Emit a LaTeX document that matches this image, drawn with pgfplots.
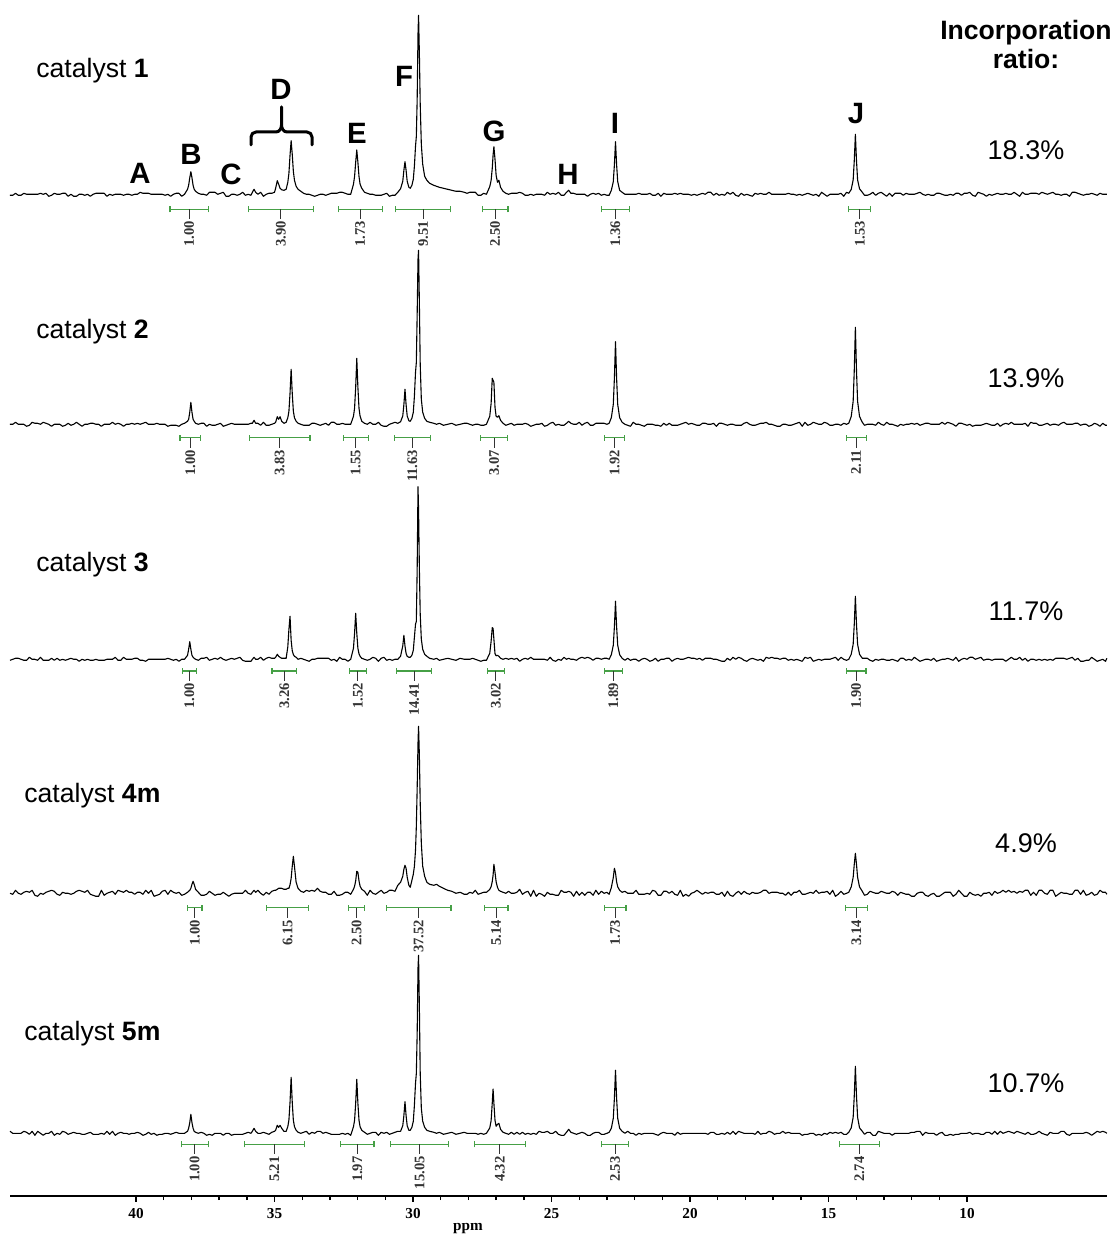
\documentclass[border=0pt]{standalone}
\usepackage{pgfplots}
\usepackage{pgfplotstable}
\pgfplotsset{compat=1.18}
\usepackage{fontspec}
\setmainfont{Liberation Sans}
\newfontfamily\tnr{Liberation Serif}
\newcommand\fs[1]{\fontsize{#1}{#1}\selectfont}
\definecolor{intg}{RGB}{70,160,70}

\pgfplotstableread{
ppm a b c d e
44.55 -1 0 -1 0 2
44.45 -1 0 0 -1 0
44.35 1 2 1 3 0
44.25 -1 0 1 0 0
44.15 -1 0 0 -1 0
44.05 1 0 -1 1 2
43.95 0 -2 -1 2 1
43.85 0 -1 2 1 -1
43.75 0 2 0 3 2
43.65 0 1 0 -2 -2
43.55 0 1 -1 -3 2
43.45 1 0 2 0 0
43.35 0 2 -1 -1 -2
43.25 1 1 -1 1 0
43.15 -2 0 -1 2 0
43.05 -1 -2 1 3 2
42.95 1 0 -1 2 -2
42.85 0 0 1 -1 0
42.75 0 0 -1 -2 -1
42.65 1 -2 0 1 2
42.55 1 -1 -1 0 1
42.45 -2 1 0 0 -1
42.35 0 -1 1 -1 0
42.25 -2 0 0 0 1
42.15 -2 2 0 2 0
42.05 0 0 -2 3 0
41.95 0 -2 0 2 -1
41.85 -1 0 -1 1 -1
41.75 0 0 0 3 0
41.65 -2 1 -1 -1 1
41.55 0 1 -1 -2 -1
41.45 1 0 0 -3 -1
41.35 1 0 -1 -3 -1
41.25 1 -2 -1 3 0
41.15 1 0 -1 -2 -1
41.05 -2 0 0 0 2
40.95 0 0 0 1 -1
40.85 -1 2 0 2 2
40.75 0 0 2 -1 -2
40.65 0 1 -1 3 0
40.55 0 0 -1 2 1
40.45 -1 -2 2 1 0
40.35 0 0 0 3 0
40.25 0 0 0 1 -1
40.15 -1 1 0 1 0
40.05 0 0 1 -1 0
39.95 0 1 1 1 1
39.85 2 0 -1 1 0
39.75 1 1 -1 -1 -2
39.65 1 2 -2 3 -1
39.55 1 0 0 0 1
39.45 0 0 0 3 -1
39.35 0 0 0 -3 0
39.25 0 1 0 -2 -2
39.15 0 0 0 -1 -1
39.05 0 0 0 2 -1
38.95 -1 0 0 3 0
38.85 0 -2 1 -1 0
38.75 -2 -1 0 3 -1
38.65 0 -1 -1 1 0
38.55 1 -1 0 0 1
38.45 1 -2 -2 1 0
38.35 -2 0 0 -2 0
38.25 0 1 0 -1 0
38.14 5 3 4 1 2
38.10 9 5 10 2 5
38.06 16.5 12 17.6 3 10.6
38.02 22.6 22 10 5 19
37.98 16.5 12 4 9 10.6
37.94 9 5 2 12 5
37.90 5 3 1 9 2
37.85 3 1 0 4 1
37.75 1 0 -1 1 0
37.65 0 1 1 -2 1
37.55 0 1 1 -2 0
37.45 -1 -2 2 -1 -2
37.35 2 0 -1 2 -1
37.25 2 -1 0 0 -2
37.15 2 -1 1 -2 0
37.05 0 0 0 -1 0
36.95 1 1 2 -1 0
36.85 2 -2 0 1 -2
36.75 -2 -1 -1 -1 0
36.65 -2 0 0 -3 0
36.55 0 1 1 -1 -2
36.45 0 0 0 0 -1
36.35 -1 0 1 0 -1
36.25 0 0 2 0 -1
36.15 2 0 -1 0 -1
36.05 -1 0 -2 3 0
35.95 0 0 -2 0 1
35.85 -1 1 -2 -1 0
35.80 2 1 0 1 2
35.74 5 4 2 3 5
35.68 2 1 0 1 2
35.60 0 1 0 3 0
35.50 2 -1 2 0 0
35.40 -2 2 -1 -2 1
35.30 0 -1 1 1 0
35.20 1 -1 2 -1 -1
35.10 1 0 1 2 1
35.00 2 1 1 3 2
34.96 6 2 2 3 3
34.90 13.6 7.6 5 4 8
34.85 10 5 3 5 6
34.80 6 7.6 2 5 8
34.74 4.5 3 1 5 5
34.66 4 1 1 4 2
34.58 5 2 1 4 2
34.52 12 6.6 12.6 5 6.7
34.48 21 13 30 5 13.4
34.44 39 31 43 8.5 31
34.40 53.6 55 19 14.8 56
34.36 40 31 8.6 27 31
34.32 23 13 4.7 37 13
34.28 14 6.6 3 27 6.7
34.22 8 3 2 11 3
34.15 5 1 0 5 1
34.05 3 0 1 2 0
33.95 1 -1 0 1 1
33.85 0 -1 -1 3 2
33.75 0 -1 -2 2 -1
33.65 -1 1 0 3 1
33.55 -2 1 0 2 0
33.45 -1 0 1 5 2
33.35 0 -1 1 2 2
33.25 0 0 1 1 0
33.15 -1 1 1 1 1
33.05 0 -1 1 -1 0
32.95 1 2 -1 -1 -1
32.85 1 2 0 2 -1
32.75 1 0 -2 -2 -1
32.65 2 0 2 -2 -1
32.55 2 1 0 -1 0
32.45 1 0 0 1 -1
32.35 0 0 -2 1 0
32.25 0 0 0 -1 -2
32.15 10 8 11 4 6.5
32.11 17.7 16 26 7 13
32.07 32 37 46 12.4 30
32.03 44.3 66 26 22 54
31.99 32 37 11 21 30
31.95 17.7 16 5.5 12.4 13
31.91 10 8 3 7 6.5
31.85 6 3 1 4 3
31.75 2 1 0 2 1
31.65 1 0 -1 -2 -1
31.55 0 2 0 3 0
31.45 0 0 2 0 1
31.35 -1 0 1 -1 1
31.25 -1 2 -2 1 -2
31.15 -1 -1 1 3 1
31.05 0 -2 2 0 0
30.95 1 -2 -1 1 1
30.85 -2 0 0 3 -1
30.75 -1 1 -1 3 0
30.65 -1 2 0 2 1
30.55 2 1 0 8 2
30.45 5.5 2.5 3 11 2
30.37 13 8.4 13.4 17 7.6
30.33 24 19.6 24 24 17.7
30.29 32.6 35 13.4 28 31.6
30.25 24 19.6 5.8 25 17.7
30.21 13 8.4 3 16 7.6
30.15 7 3.5 2 8 3
30.10 6 3 2 6 3
30.04 9 6 4 13 6
29.99 15 12 9 19 12
29.95 28 28 22 27 28
29.91 48 52 35 43 50
29.88 58 62 38 67 60
29.85 95 110 90 105 100
29.82 160 165 172.6 150 165
29.80 179 174 150 167 178
29.77 140 120 90 137 125
29.74 90 60 45 90 60
29.70 50 25 20 50 25
29.65 30 12 10 27 12
29.58 18 6 5 17 6
29.50 14 3 3 11 3
29.40 11 2 1 9 2
29.25 9 1 0 8 1
29.15 8 0 1 9 0
29.05 7 1 -1 7 1
28.90 6 -1 0 5 -1
28.75 5 0 1 3 0
28.60 4 1 0 2 1
28.45 3 -1 -1 0 -1
28.30 3 0 1 1 0
28.15 2 1 0 -1 1
28.05 1 1 0 -1 0
27.95 2 0 0 1 0
27.85 2 -1 1 0 0
27.75 2 0 0 3 0
27.65 -1 0 -1 -1 -1
27.55 -1 -1 -2 0 0
27.45 1 -1 -1 1 -1
27.35 0 0 -1 1 0
27.23 7.6 8 6 3.8 5.3
27.18 14 21 18 6.7 12.8
27.14 25.7 46 31.6 11.6 30
27.11 39 44 31 18 44.3
27.08 47.6 42 20 29 30
27.04 35 17 5.5 21 13
27.00 19 8 3.5 11.6 7
26.95 12 7 4 5.8 9
26.90 14 8.6 3 3 10
26.84 7 4 1 2 4
26.75 3 1 0 1 1
26.65 1 -1 1 0 0
26.55 0 0 0 2 -1
26.45 1 1 1 0 1
26.35 1 -1 0 0 -1
26.25 1 0 1 1 1
26.15 2 0 -2 4 -1
26.05 1 0 0 -1 1
25.95 -1 1 1 1 -1
25.85 -1 0 0 2 0
25.75 0 -2 2 -3 -1
25.65 -1 -1 0 3 0
25.55 0 0 0 -3 -1
25.45 0 0 0 0 2
25.35 0 1 0 -1 1
25.25 -1 -2 0 -3 1
25.15 2 -1 -1 1 2
25.05 0 1 2 -1 0
24.95 1 2 -1 -1 0
24.85 0 -1 -2 -2 2
24.75 2 0 0 -2 -1
24.65 -1 -1 -1 3 -2
24.55 -1 -1 2 1 -2
24.46 2 1 0 1 1
24.38 4 3 1 2 4
24.30 1 1 0 1 1
24.20 1 0 0 -3 0
24.10 0 0 -1 2 -1
24.00 0 2 1 -2 0
23.90 0 -1 2 1 1
23.80 0 1 1 -2 0
23.70 -2 2 2 1 -2
23.60 0 -1 1 1 -2
23.50 1 -1 -1 -2 0
23.40 0 1 1 3 1
23.30 1 1 1 -1 1
23.20 -1 1 0 2 -1
23.10 0 1 1 0 -1
23.00 -1 0 1 1 0
22.92 -1 1 0 -1 1
22.84 4 6.6 4.6 5.8 5
22.77 12.6 19.8 14 15.7 15
22.73 29.5 46 32.5 25 35
22.69 52.6 82.6 58 20.5 63
22.65 29.5 46 32.5 11.5 35
22.61 12.6 19.8 14 6.5 15
22.54 4 6.6 4.6 3 5
22.45 2 2 1 1 2
22.35 0 0 -1 2 0
22.25 0 -1 1 0 2
22.15 0 -2 -1 0 0
22.05 0 2 0 0 0
21.95 0 0 0 3 -2
21.85 1 0 -2 -1 0
21.75 0 -1 0 -1 -1
21.65 0 -2 1 -1 0
21.55 0 0 0 0 0
21.45 1 0 -2 -1 0
21.35 -1 0 -1 3 0
21.25 -1 -1 1 2 -1
21.15 1 -1 -2 -2 -2
21.05 -2 -2 0 -2 0
20.95 1 1 0 2 1
20.85 0 -1 1 2 0
20.75 0 1 1 0 0
20.65 0 -1 -2 2 0
20.55 1 -1 0 -1 -2
20.45 0 -1 1 -2 1
20.35 1 0 0 3 -1
20.25 0 1 0 -3 0
20.15 0 2 1 -1 0
20.05 0 0 2 -3 0
19.95 -1 1 1 0 0
19.85 0 0 1 1 0
19.75 -1 -1 0 3 0
19.65 0 -1 1 1 0
19.55 1 1 -1 -1 0
19.45 0 1 1 1 0
19.35 2 0 1 0 -1
19.25 2 0 1 1 1
19.15 -1 1 0 1 1
19.05 1 -2 0 -1 -1
18.95 -1 1 -1 -1 -1
18.85 0 1 -2 1 0
18.75 -1 0 -2 -3 -1
18.65 2 -1 1 2 1
18.55 0 0 -1 -2 -1
18.45 2 0 2 -3 2
18.35 -1 -1 0 0 -1
18.25 -2 -1 2 2 2
18.15 1 -1 1 -1 1
18.05 -1 1 -1 2 0
17.95 0 2 -2 0 0
17.85 -1 0 0 -1 0
17.75 -2 -1 1 1 0
17.65 1 -1 0 0 -1
17.55 0 0 -1 0 2
17.45 1 1 0 1 -1
17.35 0 1 -2 3 0
17.25 0 2 2 3 0
17.15 2 0 1 0 2
17.05 0 0 2 1 1
16.95 0 -1 1 1 -1
16.85 0 -2 1 1 0
16.75 0 -2 0 0 0
16.65 0 0 1 0 2
16.55 0 0 1 -2 0
16.45 1 -1 -1 1 1
16.35 0 -1 0 -2 0
16.25 0 0 -1 1 0
16.15 -1 1 0 1 0
16.05 0 2 -1 3 0
15.95 -1 -2 -2 -1 -2
15.85 0 2 2 -1 -1
15.75 1 -1 1 0 -1
15.65 0 0 2 1 0
15.55 -1 2 -2 0 0
15.45 0 1 -1 3 -2
15.35 -2 0 0 0 -1
15.25 2 0 -1 1 -2
15.15 0 2 0 1 0
15.05 -2 1 0 2 -1
14.95 0 -1 0 -1 1
14.85 0 -1 1 3 0
14.75 0 0 2 -3 1
14.65 0 0 -1 -1 0
14.55 1 -1 2 2 1
14.45 -2 1 0 -1 -1
14.35 2 0 -1 0 -1
14.27 1 1 0 1 1
14.18 4.8 7.8 5 6.4 5.4
14.11 14.4 23 15 16 16
14.07 33.6 54 35 29 37.5
14.03 60 97 63 40 67
13.99 33.6 54 35 29 37.5
13.95 14.4 23 15 16 16
13.88 5.5 7.8 5 6.4 5.4
13.78 2 2 1 2 2
13.70 -1 -1 1 -2 -1
13.60 -1 0 1 -1 1
13.50 0 0 -1 2 1
13.40 2 0 -2 1 -2
13.30 -1 -1 0 0 -2
13.20 1 2 -1 0 2
13.10 2 0 0 2 1
13.00 0 -1 0 1 0
12.90 -2 2 -1 0 0
12.80 1 0 -1 0 0
12.70 -2 0 0 2 -2
12.60 1 -1 -1 1 0
12.50 1 -2 -2 -2 0
12.40 1 0 1 1 0
12.30 -1 -1 1 0 0
12.20 1 0 -1 -1 0
12.10 0 0 0 -1 0
12.00 0 1 -1 -3 1
11.90 0 0 2 -3 1
11.80 1 1 0 0 2
11.70 2 -1 -2 1 2
11.60 0 0 -1 1 -2
11.50 -1 1 0 -2 1
11.40 0 1 0 -3 0
11.30 -1 0 -1 -1 0
11.20 -1 0 1 0 0
11.10 1 0 -2 -3 -2
11.00 1 0 -1 -3 0
10.90 0 2 0 -1 1
10.80 -1 0 0 1 -2
10.70 -1 2 1 1 -2
10.60 0 1 0 1 -1
10.50 -1 0 -1 -3 -2
10.40 1 -2 2 -1 -1
10.30 1 1 -2 3 -1
10.20 -1 1 0 0 0
10.10 1 0 1 -3 0
10.00 1 -1 0 -3 0
9.90 2 0 2 1 1
9.80 -1 -2 2 -1 -1
9.70 -2 -1 0 -2 0
9.60 2 -1 1 -1 0
9.50 1 -1 2 -3 -1
9.40 0 0 -1 0 -1
9.30 -2 1 0 0 1
9.20 0 0 0 1 1
9.10 -1 -1 -1 -2 -1
9.00 0 -1 0 2 2
8.90 1 1 0 0 -1
8.80 0 -2 0 1 2
8.70 0 0 0 3 0
8.60 1 1 -2 1 1
8.50 0 0 0 3 2
8.40 0 2 2 1 1
8.30 2 0 0 2 0
8.20 0 0 0 0 2
8.10 -2 0 2 2 1
8.00 2 0 -1 1 0
7.90 0 1 1 3 -1
7.80 0 -2 -2 3 1
7.70 1 2 0 -2 -1
7.60 1 1 0 1 -1
7.50 1 1 -1 -2 0
7.40 0 -1 0 3 2
7.30 2 -1 -1 3 0
7.20 1 0 0 0 -1
7.10 0 1 -1 -1 -2
7.00 1 -1 0 3 1
6.90 2 0 -1 3 0
6.80 0 0 1 -3 0
6.70 0 -1 1 -1 0
6.60 -1 1 1 1 2
6.50 0 2 1 0 2
6.40 0 0 0 0 -1
6.30 -2 0 1 -1 -2
6.20 2 0 2 -1 0
6.10 2 1 -1 3 0
6.00 1 1 1 3 0
5.90 0 -1 -2 -1 0
5.80 -1 0 -2 3 0
5.70 0 0 -1 -2 1
5.60 0 -2 -1 -1 0
5.50 1 -1 2 1 -2
5.40 0 1 0 -2 0
5.30 -1 0 -2 -1 2
5.20 1 -2 -1 3 1
5.10 0 1 0 1 2
5.00 0 -1 -2 1 1
4.95 0 -1 1 -1 0
}\spec

% integration bracket: left, right, centre, y, label
\newcommand\integ[5]{%
  \draw[intg, line width=0.6pt] (axis cs:#1,#4) -- (axis cs:#2,#4);
  \draw[intg, line width=0.6pt] ([yshift=-1.5pt]axis cs:#1,#4) -- ([yshift=1.5pt]axis cs:#1,#4);
  \draw[intg, line width=0.6pt] ([yshift=-1.5pt]axis cs:#2,#4) -- ([yshift=1.5pt]axis cs:#2,#4);
  \draw[black!80, line width=0.5pt] (axis cs:#3,#4) -- ([yshift=-5pt]axis cs:#3,#4)
     node[rotate=90, anchor=east, inner sep=0.8pt, font=\tnr\bfseries\fs{7.3}] {#5};
}

\begin{document}
\begin{tikzpicture}
\path[use as bounding box] (-5pt,-20.5pt) rectangle (553.5pt,598pt);
\begin{axis}[
  scale only axis, width=548.45pt, height=598pt,
  at={(0,0)}, anchor=south west,
  xmin=4.95, xmax=44.55, x dir=reverse,
  ymin=41, ymax=1237,
  axis x line=bottom, axis y line=none,
  axis line style={-, line width=0.75pt},
  xtick={10,15,...,40}, minor x tick num=4,
  tick align=outside, major tick length=2.8pt, minor tick length=2pt,
  tick style={black, line width=0.7pt},
  /pgf/number format/assume math mode=true,
  xticklabel style={font=\tnr\bfseries\fs{7.6}},
  clip=false,
  spec/.style={black, line width=0.55pt, line join=round, no markers},
]
\addplot[spec] table[x=ppm, y expr=\thisrow{a}+1042.7] {\spec};
\addplot[spec] table[x=ppm, y expr=\thisrow{b}+812.7] {\spec};
\addplot[spec] table[x=ppm, y expr=\thisrow{c}+577.7] {\spec};
\addplot[spec] table[x=ppm, y expr=\thisrow{d}+343.7] {\spec};
\addplot[spec] table[x=ppm, y expr=\thisrow{e}+103.7] {\spec};

% spectrum 1
\integ{38.77}{37.39}{38.08}{1027.7}{1.00}
\integ{35.94}{33.60}{34.77}{1027.7}{3.90}
\integ{32.70}{31.11}{31.905}{1027.7}{1.73}
\integ{30.63}{28.64}{29.635}{1027.7}{9.51}
\integ{27.50}{26.57}{27.035}{1027.7}{2.50}
\integ{23.20}{22.18}{22.69}{1027.7}{1.36}
\integ{14.27}{13.47}{13.87}{1027.7}{1.53}
% spectrum 2
\integ{38.41}{37.66}{38.035}{799.3}{1.00}
\integ{35.91}{33.72}{34.815}{799.3}{3.83}
\integ{32.52}{31.62}{32.07}{799.3}{1.55}
\integ{30.68}{29.36}{30.02}{799.3}{11.63}
\integ{27.55}{26.60}{27.075}{799.3}{3.07}
\integ{23.08}{22.36}{22.72}{799.3}{1.92}
\integ{14.36}{13.64}{14.00}{799.3}{2.11}
% spectrum 3
\integ{38.31}{37.83}{38.07}{566}{1.00}
\integ{35.09}{34.20}{34.645}{566}{3.26}
\integ{32.30}{31.68}{31.99}{566}{1.52}
\integ{30.59}{29.32}{29.955}{566}{14.41}
\integ{27.31}{26.71}{27.01}{566}{3.02}
\integ{23.08}{22.45}{22.765}{566}{1.89}
\integ{14.35}{13.65}{14.00}{566}{1.90}
% spectrum 4
\integ{38.13}{37.62}{37.875}{329.3}{1.00}
\integ{35.28}{33.78}{34.53}{329.3}{6.15}
\integ{32.34}{31.74}{32.04}{329.3}{2.50}
\integ{30.96}{28.63}{29.795}{329.3}{37.52}
\integ{27.43}{26.57}{27.00}{329.3}{5.14}
\integ{23.10}{22.31}{22.705}{329.3}{1.73}
\integ{14.38}{13.60}{13.99}{329.3}{3.14}
% spectrum 5
\integ{38.37}{37.39}{37.88}{92.7}{1.00}
\integ{36.09}{33.92}{35.005}{92.7}{5.21}
\integ{32.61}{31.41}{32.01}{92.7}{1.97}
\integ{30.80}{28.73}{29.765}{92.7}{15.05}
\integ{27.79}{25.94}{26.865}{92.7}{4.32}
\integ{23.20}{22.21}{22.705}{92.7}{2.53}
\integ{14.60}{13.17}{13.885}{92.7}{2.74}
\end{axis}

% annotations in pixel coordinates of the reference
\begin{scope}[x=0.5pt, y=-0.5pt, shift={(-5pt,598pt)}]
  \node[anchor=base, font=\tnr\bfseries\fs{7.6}] at (468,1230) {ppm};
  \node[anchor=base west, font=\fs{13.3}, inner sep=0] at (36,78) {catalyst \textbf{1}};
  \node[anchor=base west, font=\fs{13.3}, inner sep=0] at (36,339) {catalyst \textbf{2}};
  \node[anchor=base west, font=\fs{13.3}, inner sep=0] at (36,572) {catalyst \textbf{3}};
  \node[anchor=base west, font=\fs{13.3}, inner sep=0] at (24,803) {catalyst \textbf{4m}};
  \node[anchor=base west, font=\fs{13.3}, inner sep=0] at (24,1041) {catalyst \textbf{5m}};
  \node[anchor=base, font=\bfseries\fs{13.3}, inner sep=0] at (1026,40) {Incorporation};
  \node[anchor=base, font=\bfseries\fs{13.3}, inner sep=0] at (1026,69) {ratio:};
  \node[anchor=base, font=\fs{13.5}, inner sep=0] at (1026,160) {18.3\%};
  \node[anchor=base, font=\fs{13.5}, inner sep=0] at (1026,388) {13.9\%};
  \node[anchor=base, font=\fs{13.5}, inner sep=0] at (1026,621) {11.7\%};
  \node[anchor=base, font=\fs{13.5}, inner sep=0] at (1026,853) {4.9\%};
  \node[anchor=base, font=\fs{13.5}, inner sep=0] at (1026,1092) {10.7\%};
  \begin{scope}[every node/.style={font=\bfseries\fs{14.7}, inner sep=0}]
    \node at (140,173) {A};
    \node at (191,154) {B};
    \node at (231,174) {C};
    \node at (281,89) {D};
    \node at (357,133) {E};
    \node at (404,76) {F};
    \node at (494,131) {G};
    \node at (568,174) {H};
    \node at (615,123) {I};
    \node at (856,114) {J};
  \end{scope}
  \draw[line width=1.5pt, line cap=round, line join=round]
    (251,145) -- (251,137) to[out=90,in=180] (256,132) -- (276,132)
    to[out=0,in=-90] (281.5,125) -- (281.5,107);
  \draw[line width=1.5pt, line cap=round, line join=round]
    (312,145) -- (312,137) to[out=90,in=0] (307,132) -- (287,132)
    to[out=180,in=-90] (281.5,125);
\end{scope}
\end{tikzpicture}
\end{document}
